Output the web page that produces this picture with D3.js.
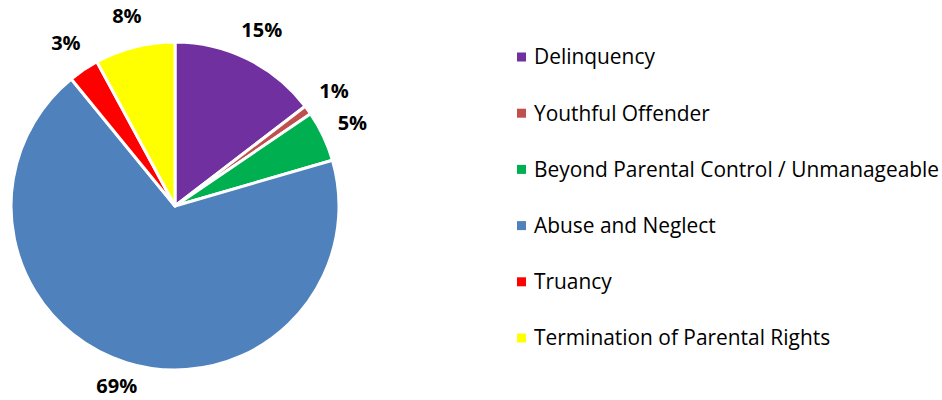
<!DOCTYPE html>
<html>
<head>
<meta charset="utf-8">
<script src="https://cdn.jsdelivr.net/npm/d3@7"></script>
<style>
  body { margin: 0; background: #fff; }
  svg text { font-family: "Open Sans", sans-serif; }
</style>
</head>
<body>
<div class="canvas"></div>
<script>
// data
const categories = [
  'Delinquency',
  'Youthful Offender',
  'Beyond Parental Control / Unmanageable',
  'Abuse and Neglect',
  'Truancy',
  'Termination of Parental Rights'
];
const shares = [14.6, 0.9, 5.0, 68.6, 3.0, 7.9];
const labels = ['15%', '1%', '5%', '69%', '3%', '8%'];
const colors = ['#7030A0', '#C0504D', '#00B050', '#4F81BD', '#FF0000', '#FFFF00'];

const dims = { width: 942, height: 400, radius: 164 };
const center = { x: 175, y: 206 };

const data = categories.map((name, i) => ({ name, value: shares[i], label: labels[i] }));

const svg = d3
  .select('.canvas')
  .append('svg')
  .attr('width', dims.width)
  .attr('height', dims.height);

const graph = svg
  .append('g')
  .attr('transform', `translate(${center.x}, ${center.y})`);

const color = d3.scaleOrdinal().domain(categories).range(colors);

const pie = d3
  .pie()
  .sort(null) // keep order, clockwise from 12 o'clock
  .value((d) => d.value);

const arcPath = d3.arc().outerRadius(dims.radius).innerRadius(0);

// labels sit outside the pie
const labelArc = d3.arc().outerRadius(dims.radius + 32).innerRadius(dims.radius + 32);

graph
  .selectAll('path')
  .data(pie(data))
  .enter()
  .append('path')
  .attr('d', arcPath)
  .attr('fill', (d) => color(d.data.name))
  .attr('stroke', '#fff')
  .attr('stroke-width', 3)
  .attr('stroke-linejoin', 'round');

// keep labels inside the frame
const clampY = (y) => Math.max(14 - center.y, Math.min(dims.height - 14 - center.y, y));

graph
  .selectAll('text.pct')
  .data(pie(data))
  .enter()
  .append('text')
  .attr('class', 'pct')
  .attr('transform', (d) => {
    const [x, y] = labelArc.centroid(d);
    return `translate(${x}, ${clampY(y)})`;
  })
  .attr('text-anchor', 'middle')
  .attr('dy', '0.35em')
  .attr('font-size', 20)
  .attr('font-weight', 'bold')
  .attr('fill', '#000')
  .text((d) => d.data.label);

// legend
const legendY = d3.scalePoint().domain(categories).range([57, 338]);

const legend = svg.append('g').attr('transform', 'translate(517, 0)');

const rows = legend
  .selectAll('g')
  .data(categories)
  .enter()
  .append('g')
  .attr('transform', (d) => `translate(0, ${legendY(d)})`);

rows
  .append('rect')
  .attr('x', 0)
  .attr('y', -4.5)
  .attr('width', 9)
  .attr('height', 9)
  .attr('fill', (d) => color(d));

rows
  .append('text')
  .attr('x', 17)
  .attr('dy', '0.35em')
  .attr('font-size', 20.9)
  .attr('fill', '#000')
  .text((d) => d);
</script>
</body>
</html>
